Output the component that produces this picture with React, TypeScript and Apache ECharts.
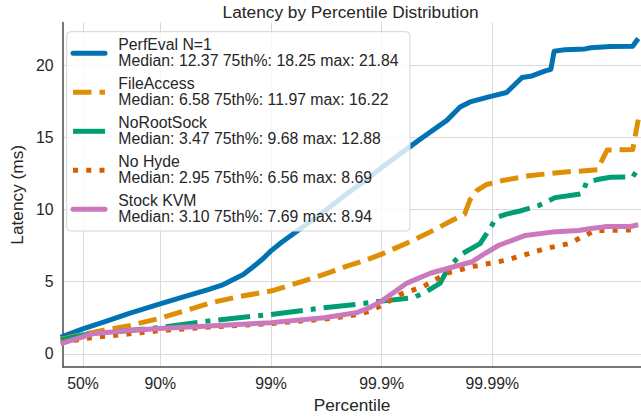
import React, { useEffect, useRef } from 'react';
import * as echarts from 'echarts';

// x positions are in "nines": -log10(1 - percentile/100)
const tickNines = [0.30103, 1, 2, 3, 4];
const tickLabels = ['50%', '90%', '99%', '99.9%', '99.99%'];
const yTicks = [0, 5, 10, 15, 20];

const seriesNames = ['PerfEval N=1', 'FileAccess', 'NoRootSock', 'No Hyde', 'Stock KVM'];
const medians = ['12.37', '6.58', '3.47', '2.95', '3.10'];
const p75s = ['18.25', '11.97', '9.68', '6.56', '7.69'];
const maxes = ['21.84', '16.22', '12.88', '8.69', '8.94'];
const colors = ['#0173B2', '#DE8F05', '#029E73', '#D55E00', '#CC78BC'];

const perfEvalNines = [0.10, 0.30, 0.50, 0.72, 0.99, 1.21, 1.44, 1.57, 1.75, 1.84, 1.93, 2.00, 2.10, 2.30, 2.48, 2.68, 2.86, 3.00, 3.26, 3.38, 3.59, 3.71, 3.80, 3.97, 4.13, 4.27, 4.36, 4.48, 4.53, 4.56, 4.66, 4.84, 4.89, 5.07, 5.27, 5.32];
const perfEvalMs = [1.15, 1.73, 2.23, 2.8, 3.44, 3.95, 4.46, 4.8, 5.5, 6.03, 6.6, 7.13, 7.75, 8.85, 9.85, 11.05, 12.05, 12.9, 14.37, 15.04, 16.17, 17.1, 17.45, 17.8, 18.1, 19.14, 19.25, 19.6, 19.7, 20.96, 21.07, 21.12, 21.2, 21.28, 21.3, 21.84];

const fileAccessNines = [0.10, 0.30, 0.50, 0.72, 0.99, 1.21, 1.44, 1.70, 2.00, 2.30, 2.48, 2.68, 2.86, 3.00, 3.29, 3.47, 3.64, 3.75, 3.80, 3.86, 3.95, 4.09, 4.33, 4.66, 4.78, 4.95, 5.04, 5.27, 5.32];
const fileAccessMs = [1.0, 1.35, 1.65, 1.95, 2.45, 2.95, 3.5, 3.95, 4.35, 5.05, 5.5, 6.05, 6.5, 6.9, 7.88, 8.56, 9.25, 9.66, 10.68, 11.3, 11.73, 12.0, 12.33, 12.6, 12.65, 12.75, 14.12, 14.15, 16.22];

const noRootSockNines = [0.10, 0.30, 0.69, 0.99, 1.44, 2.00, 2.48, 2.77, 3.00, 3.29, 3.41, 3.53, 3.61, 3.73, 3.89, 3.97, 4.04, 4.13, 4.27, 4.42, 4.57, 4.78, 4.82, 4.85, 4.95, 5.07, 5.27, 5.32];
const noRootSockMs = [0.95, 1.3, 1.6, 1.82, 2.28, 2.73, 3.19, 3.42, 3.65, 3.9, 4.33, 4.9, 6.04, 6.94, 7.63, 8.56, 9.45, 9.68, 9.93, 10.27, 10.82, 11.05, 11.16, 11.85, 12.07, 12.23, 12.25, 12.85];

const noHydeNines = [0.10, 0.30, 0.99, 1.44, 2.00, 2.48, 2.77, 2.89, 3.00, 3.17, 3.38, 3.59, 3.82, 3.97, 4.13, 4.33, 4.48, 4.69, 4.78, 4.93, 5.27, 5.32];
const noHydeMs = [0.75, 1.05, 1.6, 1.85, 2.1, 2.4, 2.7, 2.95, 3.35, 4.12, 4.67, 5.58, 6.04, 6.26, 6.49, 6.94, 7.29, 7.63, 7.97, 8.54, 8.58, 8.69];

const stockKvmNines = [0.10, 0.39, 0.69, 0.99, 1.44, 2.00, 2.48, 2.77, 2.89, 3.00, 3.23, 3.44, 3.71, 3.82, 3.91, 4.06, 4.18, 4.30, 4.54, 4.78, 4.86, 5.04, 5.25, 5.32];
const stockKvmMs = [0.7, 1.39, 1.6, 1.75, 1.93, 2.16, 2.5, 2.84, 3.19, 3.65, 4.9, 5.58, 6.15, 6.38, 6.83, 7.52, 7.86, 8.2, 8.43, 8.54, 8.65, 8.82, 8.82, 8.94];

const allNines = [perfEvalNines, fileAccessNines, noRootSockNines, noHydeNines, stockKvmNines];
const allMs = [perfEvalMs, fileAccessMs, noRootSockMs, noHydeMs, stockKvmMs];

const LW = 5;
const dashes: (number[] | null)[] = [null, [3.7 * LW, 1.6 * LW], [6.4 * LW, 1.6 * LW, 1 * LW, 1.6 * LW], [1 * LW, 1.65 * LW], null];

const FONT = '"Liberation Sans", Arial, Helvetica, sans-serif';
const TEXT = '#262626';

export default function App() {
  const ref = useRef<HTMLDivElement>(null);
  useEffect(() => {
    if (!ref.current) return;
    const chart = echarts.init(ref.current, undefined, { renderer: 'svg' });

    const series = seriesNames.map((name, i) => ({
      name,
      type: 'line',
      data: allNines[i].map((n, j) => [n, allMs[i][j]]),
      showSymbol: false,
      symbol: 'none',
      clip: true,
      z: 2 + i,
      lineStyle: {
        color: colors[i],
        width: LW,
        type: dashes[i] ? dashes[i] : 'solid',
        cap: 'butt',
        join: 'round',
      },
    }));

    const legendX = 66.7, legendY = 31.7, legendW = 343.3, legendH = 199.3;
    const legendEls: any[] = [
      {
        type: 'rect',
        shape: { x: legendX, y: legendY, width: legendW, height: legendH, r: 4 },
        style: { fill: 'rgba(255,255,255,0.8)', stroke: '#d4d4d4', lineWidth: 1 },
        z: 100,
      },
    ];
    seriesNames.forEach((name, i) => {
      const hy = 53.3 + i * 39;
      legendEls.push({
        type: 'line',
        shape: { x1: 73, y1: hy, x2: 105, y2: hy },
        style: {
          stroke: colors[i],
          lineWidth: LW,
          lineDash: dashes[i] || undefined,
          lineCap: dashes[i] ? 'butt' : 'round',
        },
        z: 101,
      });
      legendEls.push({
        type: 'text',
        x: 118.3,
        y: hy - 0.8,
        style: {
          text: name + '\n' + 'Median: ' + medians[i] + ' 75th%: ' + p75s[i] + ' max: ' + maxes[i],
          font: '15.8px ' + FONT,
          fill: TEXT,
          lineHeight: 16.7,
          verticalAlign: 'middle',
          align: 'left',
        },
        z: 101,
      });
    });

    const option: any = {
      animation: false,
      backgroundColor: '#ffffff',
      textStyle: { fontFamily: FONT },
      grid: { left: 57.3, top: 22.5, right: -3, bottom: 46.3, containLabel: false },
      xAxis: {
        type: 'value',
        min: 0.121,
        max: 5.345,
        name: 'Percentile',
        nameLocation: 'middle',
        nameGap: 26.5,
        nameTextStyle: { fontSize: 17.25, color: TEXT, fontFamily: FONT },
        axisLine: { show: true, onZero: false, lineStyle: { color: '#4a4a4a', width: 1.5 } },
        axisTick: { show: false, customValues: tickNines },
        axisLabel: {
          customValues: tickNines,
          formatter: (v: number) => {
            const k = tickNines.findIndex((t) => Math.abs(t - v) < 1e-4);
            return k >= 0 ? tickLabels[k] : '';
          },
          color: TEXT,
          fontSize: 15.8,
          fontFamily: FONT,
          margin: 8,
        },
        splitLine: { show: true, lineStyle: { color: '#dadada', width: 1 } },
      },
      yAxis: {
        type: 'value',
        min: -0.92,
        max: 22.95,
        name: 'Latency (ms)',
        nameLocation: 'middle',
        nameGap: 32,
        nameRotate: 90,
        nameTextStyle: { fontSize: 17.25, color: TEXT, fontFamily: FONT },
        axisLine: { show: true, onZero: false, lineStyle: { color: '#4a4a4a', width: 1.5 } },
        axisTick: { show: false, customValues: yTicks },
        axisLabel: {
          customValues: yTicks,
          color: TEXT,
          fontSize: 15.8,
          fontFamily: FONT,
          margin: 9.6,
        },
        splitLine: { show: true, lineStyle: { color: '#dadada', width: 1 } },
      },
      graphic: [
        {
          type: 'text',
          x: 350.6,
          y: 12,
          style: {
            text: 'Latency by Percentile Distribution',
            font: '17.25px ' + FONT,
            fill: TEXT,
            align: 'center',
            verticalAlign: 'middle',
          },
          z: 100,
        },
        ...legendEls,
      ],
      series,
    };
    chart.setOption(option);
    return () => chart.dispose();
  }, []);
  return <div ref={ref} style={{ position: 'absolute', left: 0, top: 0, width: 641, height: 418 }} />;
}
